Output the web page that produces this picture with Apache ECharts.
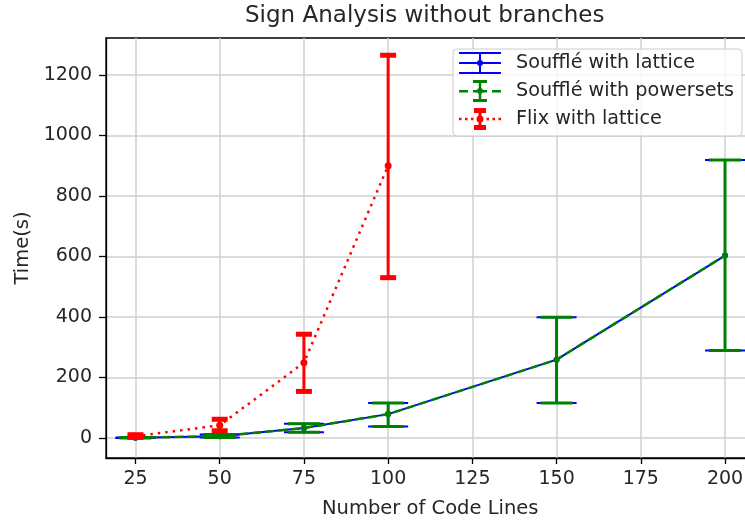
<!DOCTYPE html>
<html><head><meta charset="utf-8">
<script src="https://cdn.jsdelivr.net/npm/echarts@6/dist/echarts.min.js"></script>
<style>html,body{margin:0;padding:0;background:#fff}#c{width:745px;height:521px}</style>
</head><body><div id="c"></div>
<script>
// ---- data ----
const xValues = [25, 50, 75, 100, 150, 200];
const latticeMean = [1, 6, 33, 79, 259, 603];
const latticeLow = [0, 2, 19, 38, 116, 289];
const latticeHigh = [2, 12, 47, 116, 399, 919];
const powersetsMean = [1, 6, 33, 79, 259, 603];
const powersetsLow = [0, 2, 19, 38, 116, 289];
const powersetsHigh = [2, 12, 47, 116, 399, 919];
const flixX = [25, 50, 75, 100];
const flixMean = [6, 42, 249, 900];
const flixLow = [2, 24, 154, 530];
const flixHigh = [11, 62, 343, 1265];
const xTicks = [25, 50, 75, 100, 125, 150, 175, 200];
const yTicks = [0, 200, 400, 600, 800, 1000, 1200];
const seriesNames = ['Soufflé with lattice', 'Soufflé with powersets', 'Flix with lattice'];

const FONT = 'DejaVu Sans';
const TXT = '#262626';

function pairs(xs, ys) { return xs.map((x, i) => [x, ys[i]]); }
function triples(xs, lo, hi) { return xs.map((x, i) => [x, lo[i], hi[i]]); }
function errorBar(color, barW, capW, capT) {
  return function (params, api) {
    const x = api.value(0);
    const pLo = api.coord([x, api.value(1)]);
    const pHi = api.coord([x, api.value(2)]);
    const st = { stroke: color, lineWidth: barW };
    const cs = { stroke: color, lineWidth: capT };
    return { type: 'group', children: [
      { type: 'line', shape: { x1: pLo[0], y1: pLo[1], x2: pHi[0], y2: pHi[1] }, style: st },
      { type: 'line', shape: { x1: pLo[0] - capW / 2, y1: pLo[1], x2: pLo[0] + capW / 2, y2: pLo[1] }, style: cs },
      { type: 'line', shape: { x1: pHi[0] - capW / 2, y1: pHi[1], x2: pHi[0] + capW / 2, y2: pHi[1] }, style: cs }
    ] };
  };
}

const dot = 'M21 8A3 3 0 1 1 21 14A3 3 0 1 1 21 8Z';
const iconBlue = 'path://M0 0H42V2H0Z M0 20H42V22H0Z M0 10H42V12H0Z M20 0H22V22H20Z ' + dot;
const iconGreen = 'path://M0 10H9V12.5H0Z M14 10H28V12.5H14Z M33 10H42V12.5H33Z M19.75 2H22.25V20H19.75Z M14 0H28V3H14Z M14 19H28V22H14Z ' + dot;
const iconRed = 'path://M0 9.75H2.5V12.25H0Z M6 9.75H8.5V12.25H6Z M12 9.75H14.5V12.25H12Z M27.5 9.75H30V12.25H27.5Z M33.5 9.75H36V12.25H33.5Z M39.5 9.75H42V12.25H39.5Z M19.5 0H22.5V22H19.5Z M15 0H27V5H15Z M15 17H27V22H15Z M21 7.5A3.5 3.5 0 1 1 21 14.5A3.5 3.5 0 1 1 21 7.5Z';

const chart = echarts.init(document.getElementById('c'), null, { renderer: 'canvas' });
chart.setOption({
  animation: false,
  backgroundColor: '#fff',
  title: {
    text: 'Sign Analysis without branches', left: 245, top: 5, padding: 0,
    textStyle: { fontFamily: FONT, fontSize: 23, fontWeight: 'normal', color: TXT }
  },
  legend: {
    orient: 'vertical', left: 453, top: 49,
    itemWidth: 42, itemHeight: 22, itemGap: 6,
    padding: [3, 8, 6, 6],
    backgroundColor: 'rgba(255,255,255,0.8)', borderColor: '#cccccc', borderWidth: 1, borderRadius: 4,
    textStyle: { fontFamily: FONT, fontSize: 19.2, color: TXT, padding: [0, 0, 0, 10] },
    data: [
      { name: seriesNames[0], icon: iconBlue },
      { name: seriesNames[1], icon: iconGreen },
      { name: seriesNames[2], icon: iconRed }
    ]
  },
  grid: { left: 106, top: 38, width: 648.5, bottom: 63, containLabel: false, outerBoundsMode: 'none',
    show: true, borderColor: '#000', borderWidth: 1.3, backgroundColor: 'transparent' },
  xAxis: {
    type: 'value', min: 16.25, max: 208.75,
    name: 'Number of Code Lines', nameLocation: 'middle', nameGap: 41,
    nameTextStyle: { fontFamily: FONT, fontSize: 19.5, color: TXT },
    axisLine: { show: true, onZero: false, lineStyle: { color: '#000', width: 1.3 } },
    axisTick: { show: true, length: 6, customValues: xTicks, lineStyle: { color: '#000', width: 1.3 } },
    axisLabel: { customValues: xTicks, margin: 12, fontFamily: FONT, fontSize: 19, color: TXT, formatter: v => String(v) },
    splitLine: { show: true, lineStyle: { color: '#cfcfcf', width: 1.5 } }
  },
  yAxis: {
    type: 'value', min: -66, max: 1322,
    name: 'Time(s)', nameLocation: 'middle', nameGap: 70, nameRotate: 90,
    nameTextStyle: { fontFamily: FONT, fontSize: 19.5, color: TXT },
    axisLine: { show: true, onZero: false, lineStyle: { color: '#000', width: 1.3 } },
    axisTick: { show: true, length: 7, customValues: yTicks, lineStyle: { color: '#000', width: 1.3 } },
    axisLabel: { customValues: yTicks, margin: 14, fontFamily: FONT, fontSize: 19, color: TXT, formatter: v => String(v) },
    splitLine: { show: true, lineStyle: { color: '#cfcfcf', width: 1.5 } }
  },
  series: [
    { type: 'line', name: seriesNames[0], data: pairs(xValues, latticeMean), z: 2,
      color: '#0000ff', lineStyle: { color: '#0000ff', width: 2 }, symbol: 'circle', symbolSize: 6, itemStyle: { color: '#0000ff' } },
    { type: 'custom', name: seriesNames[0], data: triples(xValues, latticeLow, latticeHigh), z: 2,
      renderItem: errorBar('#0000ff', 2, 40, 2), encode: { x: 0, y: [1, 2] } },
    { type: 'line', name: seriesNames[1], data: pairs(xValues, powersetsMean), z: 3,
      color: '#008000', lineStyle: { color: '#008000', width: 2.5, type: [9, 4] }, symbol: 'circle', symbolSize: 6, itemStyle: { color: '#008000' } },
    { type: 'custom', name: seriesNames[1], data: triples(xValues, powersetsLow, powersetsHigh), z: 3,
      renderItem: errorBar('#008000', 3, 32, 3), encode: { x: 0, y: [1, 2] } },
    { type: 'line', name: seriesNames[2], data: pairs(flixX, flixMean), z: 4,
      color: '#ff0000', lineStyle: { color: '#ff0000', width: 2.5, type: [2.5, 5] }, symbol: 'circle', symbolSize: 7, itemStyle: { color: '#ff0000' } },
    { type: 'custom', name: seriesNames[2], data: triples(flixX, flixLow, flixHigh), z: 4,
      renderItem: errorBar('#ff0000', 3, 16, 5), encode: { x: 0, y: [1, 2] } }
  ]
});
</script></body></html>
